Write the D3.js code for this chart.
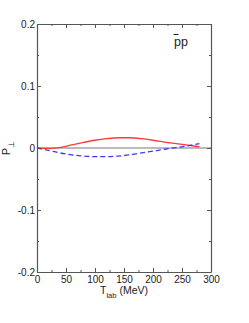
<!DOCTYPE html>
<html>
<head>
<meta charset="utf-8">
<script src="https://cdn.jsdelivr.net/npm/d3@7"></script>
<style>
  body { margin: 0; background: #fff; }
  text { font-family: "Liberation Sans", Arial, sans-serif; }
</style>
</head>
<body>
<svg id="chart"></svg>
<script>
// values
const tlab = [0, 10, 20, 30, 40, 60, 80, 100, 120, 140, 160, 180, 200, 220, 240, 260, 280];
const solidP = [0, -0.0005, -0.0006, -0.0002, 0.001, 0.005, 0.009, 0.0125, 0.015, 0.0165, 0.0165, 0.015, 0.0125, 0.0095, 0.007, 0.0045, 0.002];
const dashedP = [0, -0.002, -0.004, -0.006, -0.008, -0.011, -0.013, -0.014, -0.014, -0.013, -0.011, -0.008, -0.005, -0.002, 0.0007, 0.0035, 0.007];
const xTicks = [0, 50, 100, 150, 200, 250, 300];
const yTicks = [-0.2, -0.1, 0, 0.1, 0.2];

const width = 249, height = 323;
const margin = {top: 24, right: 38, bottom: 51, left: 37};

const svg = d3.select("#chart")
    .attr("width", width)
    .attr("height", height);

const x = d3.scaleLinear().domain([0, 300]).range([margin.left, width - margin.right]);
const y = d3.scaleLinear().domain([-0.2, 0.2]).range([height - margin.bottom, margin.top]);

const axisColor = "#555";

// zero line
svg.append("line")
    .attr("x1", x(0)).attr("x2", x(300))
    .attr("y1", y(0)).attr("y2", y(0))
    .attr("stroke", "#777").attr("stroke-width", 1);

// curves
const line = d3.line()
    .x((d, i) => x(tlab[i]))
    .y(d => y(d))
    .curve(d3.curveMonotoneX);

svg.append("path")
    .datum(solidP)
    .attr("d", line)
    .attr("fill", "none")
    .attr("stroke", "#ff3838")
    .attr("stroke-width", 1.3);

svg.append("path")
    .datum(dashedP)
    .attr("d", line)
    .attr("fill", "none")
    .attr("stroke", "#3a3aff")
    .attr("stroke-width", 1.3)
    .attr("stroke-dasharray", "5,3");

// axes with inward ticks
function styleAxis(g) {
    g.selectAll("path, line").attr("stroke", axisColor);
    g.select(".domain").attr("stroke-width", 1.2);
}

const xMinor = d3.range(25, 300, 50);
const yMinor = [-0.15, -0.05, 0.05, 0.15];

const bottomAxis = svg.append("g")
    .attr("transform", `translate(0,${y(-0.2)})`)
    .call(d3.axisBottom(x).tickValues(xTicks).tickSizeInner(-4).tickSizeOuter(0).tickPadding(4).tickFormat(d3.format("d")));
bottomAxis.call(styleAxis);
bottomAxis.selectAll("text").attr("font-size", 10).attr("fill", "#222");
svg.append("g")
    .attr("transform", `translate(0,${y(-0.2)})`)
    .call(d3.axisBottom(x).tickValues(xMinor).tickSize(-2).tickFormat(""))
    .call(styleAxis).select(".domain").remove();

const topAxis = svg.append("g")
    .attr("transform", `translate(0,${y(0.2)})`)
    .call(d3.axisTop(x).tickValues(xTicks).tickSizeInner(-4).tickSizeOuter(0).tickFormat(""));
topAxis.call(styleAxis);
svg.append("g")
    .attr("transform", `translate(0,${y(0.2)})`)
    .call(d3.axisTop(x).tickValues(xMinor).tickSize(-2).tickFormat(""))
    .call(styleAxis).select(".domain").remove();

const leftAxis = svg.append("g")
    .attr("transform", `translate(${x(0)},0)`)
    .call(d3.axisLeft(y).tickValues(yTicks).tickSizeInner(-4).tickSizeOuter(0).tickPadding(2)
        .tickFormat(d => d === 0 ? "0" : d3.format(".1f")(d).replace("−", "-")));
leftAxis.call(styleAxis);
leftAxis.selectAll("text").attr("font-size", 10).attr("fill", "#222");
svg.append("g")
    .attr("transform", `translate(${x(0)},0)`)
    .call(d3.axisLeft(y).tickValues(yMinor).tickSize(-2).tickFormat(""))
    .call(styleAxis).select(".domain").remove();

const rightAxis = svg.append("g")
    .attr("transform", `translate(${x(300)},0)`)
    .call(d3.axisRight(y).tickValues(yTicks).tickSizeInner(-4).tickSizeOuter(0).tickFormat(""));
rightAxis.call(styleAxis);
svg.append("g")
    .attr("transform", `translate(${x(300)},0)`)
    .call(d3.axisRight(y).tickValues(yMinor).tickSize(-2).tickFormat(""))
    .call(styleAxis).select(".domain").remove();

// x axis title
const xt = svg.append("text")
    .attr("x", x(150))
    .attr("y", 294)
    .attr("text-anchor", "middle")
    .attr("font-size", 10.5)
    .attr("fill", "#222");
xt.append("tspan").text("T");
xt.append("tspan").attr("font-size", 7.5).attr("dy", 3.5).text("lab");
xt.append("tspan").attr("dy", -3.5).text(" (MeV)");

// y axis title
const yt = svg.append("text")
    .attr("transform", `translate(10,${y(0)}) rotate(-90)`)
    .attr("text-anchor", "middle")
    .attr("font-size", 10.5)
    .attr("fill", "#222");
yt.append("tspan").text("P");
yt.append("tspan").attr("font-size", 7.5).attr("dy", 3.5).text("⊥");

// reaction label
svg.append("text")
    .attr("x", 174)
    .attr("y", 46)
    .attr("font-size", 12.5)
    .attr("fill", "#222")
    .text("pp");
svg.append("line")
    .attr("x1", 173.5).attr("x2", 178.5)
    .attr("y1", 34.5).attr("y2", 34.5)
    .attr("stroke", "#222").attr("stroke-width", 1);
</script>
</body>
</html>
